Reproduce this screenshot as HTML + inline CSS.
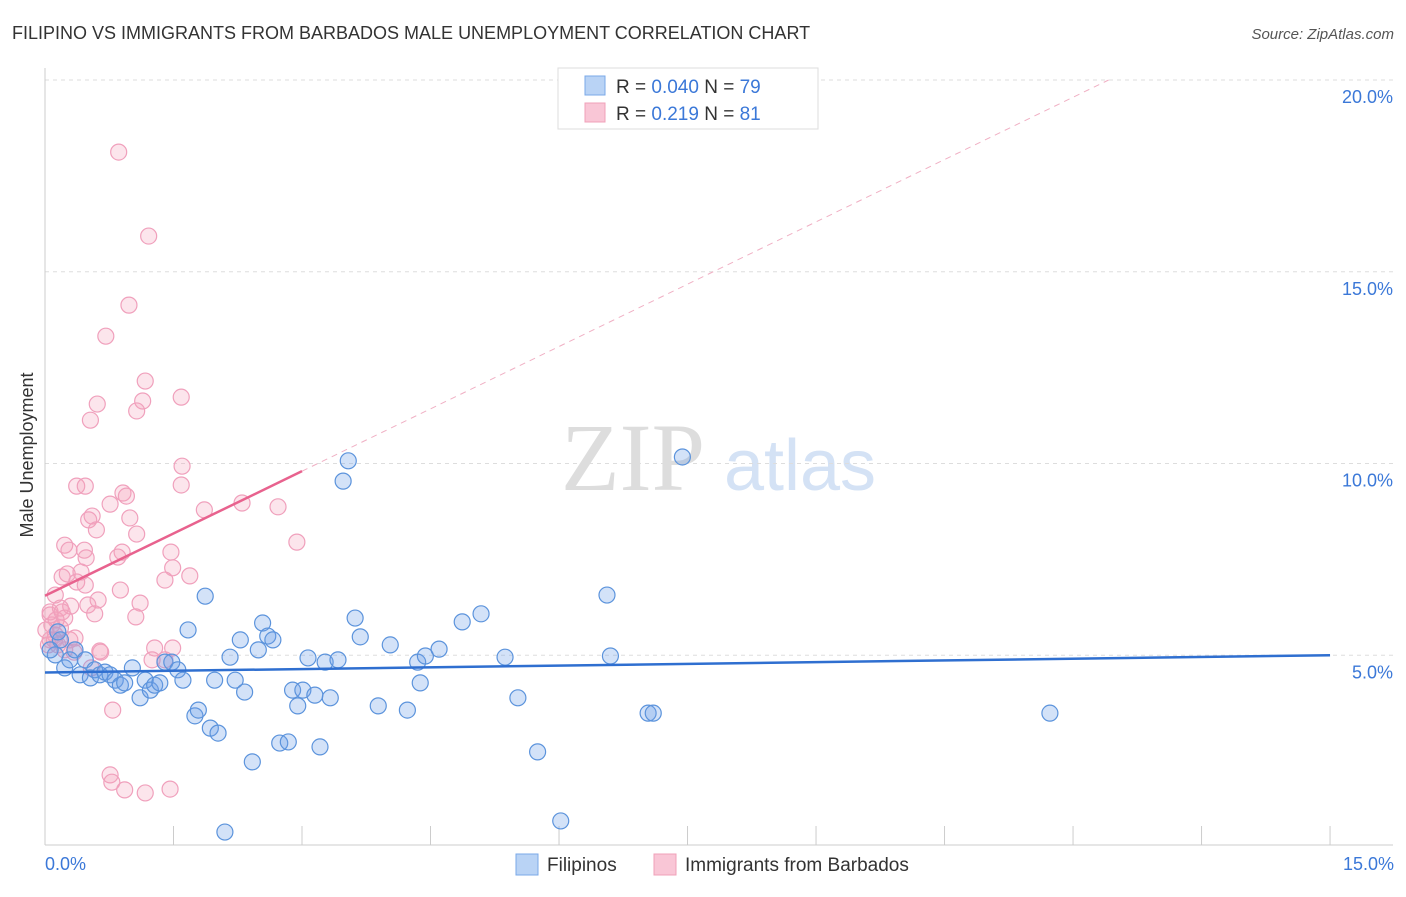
<!DOCTYPE html>
<html><head><meta charset="utf-8"><style>
body{margin:0;background:#fff;font-family:"Liberation Sans",sans-serif}
svg text{font-family:"Liberation Sans",sans-serif}
</style></head><body>
<svg id="c" width="1406" height="892">
<text x="12" y="39" font-size="18" fill="#333">FILIPINO VS IMMIGRANTS FROM BARBADOS MALE UNEMPLOYMENT CORRELATION CHART</text>
<text x="1394" y="39" font-size="15" fill="#555" font-style="italic" text-anchor="end">Source: ZipAtlas.com</text>
<text x="633" y="490" font-size="96" fill="#ddd" font-family="Liberation Serif" text-anchor="middle" style="font-family:'Liberation Serif',serif">ZIP</text>
<text x="800" y="490" font-size="72" fill="#d4e2f5" text-anchor="middle">atlas</text>
<g id="grid"></g>
<g id="marks"></g>
<text transform="translate(33,455) rotate(-90)" font-size="18" fill="#333" text-anchor="middle">Male Unemployment</text>
<text x="45" y="870" font-size="18" fill="#3b78d8">0.0%</text>
<text x="1394" y="870" font-size="18" fill="#3b78d8" text-anchor="end">15.0%</text>
<g>
<rect x="558" y="68" width="260" height="61" fill="#fff" stroke="#ddd"/>
<rect x="585" y="76" width="20" height="19" fill="#b9d3f5" stroke="#7aa8e8"/>
<rect x="585" y="103" width="20" height="19" fill="#f9c6d6" stroke="#f0a0b8"/>
<text x="616" y="93" font-size="19" fill="#333">R = <tspan fill="#3b78d8">0.040</tspan>   N = <tspan fill="#3b78d8">79</tspan></text>
<text x="616" y="120" font-size="19" fill="#333">R =   <tspan fill="#3b78d8">0.219</tspan>   N =  <tspan fill="#3b78d8">81</tspan></text>
</g>
<g>
<rect x="516" y="854" width="22" height="21" fill="#b9d3f5" stroke="#7aa8e8"/>
<text x="547" y="871" font-size="19" fill="#333">Filipinos</text>
<rect x="654" y="854" width="22" height="21" fill="#f9c6d6" stroke="#f0a0b8"/>
<text x="685" y="871" font-size="19" fill="#333">Immigrants from Barbados</text>
</g>
</svg>
<script>
const yTicks=[5,10,15,20];
const yTickLabels=["5.0%","10.0%","15.0%","20.0%"];
const xTicks=[0,1.5,3,4.5,6,7.5,9,10.5,12,13.5,15];
const blueX=[0.12,0.18,0.23,0.29,0.35,0.41,0.47,0.53,0.58,0.64,0.70,0.76,0.82,0.88,0.93,1.02,1.11,1.17,1.23,1.28,1.34,1.40,1.48,1.55,1.61,1.67,1.75,1.79,1.87,1.93,2.02,1.98,2.16,2.22,2.28,2.33,2.42,2.49,2.54,2.60,2.66,2.74,2.84,2.89,2.95,3.01,3.07,3.15,3.21,3.27,3.33,3.42,3.48,3.54,3.62,3.68,3.89,4.03,4.23,4.35,4.38,4.44,4.60,4.87,5.09,5.37,5.52,5.75,6.02,6.56,6.60,7.04,7.10,7.44,11.73,2.10,0.06,0.15];
const blueY=[5.01,5.40,4.67,4.88,5.14,4.49,4.88,4.41,4.62,4.49,4.56,4.49,4.35,4.22,4.28,4.67,3.89,4.35,4.09,4.22,4.28,4.82,4.82,4.62,4.35,5.66,3.42,3.57,6.54,3.10,2.97,4.35,4.95,4.35,5.40,4.04,2.22,5.14,5.84,5.50,5.40,2.71,2.74,4.09,3.68,4.09,4.93,3.96,2.61,4.82,3.89,4.88,9.54,10.07,5.97,5.48,3.68,5.27,3.57,4.82,4.28,4.98,5.16,5.87,6.08,4.95,3.89,2.48,0.68,6.57,4.98,3.49,3.49,10.17,3.49,0.39,5.14,5.61];
const pinkX=[0.86,1.21,0.98,0.71,1.17,1.14,1.59,0.61,1.07,0.53,1.60,0.37,0.47,0.91,0.95,1.59,2.30,0.76,2.72,1.86,0.55,0.51,0.99,0.60,1.07,2.94,0.23,0.28,0.46,0.90,0.48,0.85,1.47,1.49,0.20,0.26,0.42,1.69,1.40,0.37,0.47,0.88,0.12,0.62,1.11,0.18,0.30,0.50,0.58,1.06,0.06,0.13,0.23,0.08,0.18,0.01,0.12,0.29,0.35,0.06,0.15,0.23,0.65,1.28,1.49,1.25,1.40,0.54,0.79,0.76,0.78,0.93,1.17,1.46,0.06,0.20,0.04,0.11,0.34,0.64];
const pinkY=[18.12,15.93,14.13,13.32,12.15,11.63,11.73,11.55,11.37,11.13,9.93,9.41,9.41,9.23,9.15,9.44,8.97,8.94,8.87,8.79,8.63,8.53,8.58,8.27,8.16,7.95,7.87,7.74,7.74,7.69,7.54,7.56,7.69,7.28,7.04,7.12,7.17,7.07,6.96,6.91,6.83,6.70,6.57,6.44,6.36,6.23,6.28,6.31,6.08,6.00,6.05,5.92,5.97,5.79,5.71,5.66,5.53,5.40,5.45,5.40,5.27,5.14,5.08,5.19,5.19,4.88,4.88,4.67,3.57,1.88,1.69,1.49,1.41,1.51,6.13,6.13,5.27,5.40,5.08,5.11];
const blueTrend=[4.55,5.0];
const pinkTrend=[6.55,9.8];
const X0=45,XS=85.67,Y0=847,YS=38.35;
const sx=v=>X0+v*XS, sy=v=>Y0-v*YS;
const NS="http://www.w3.org/2000/svg";
function mk(t,a,p){const e=document.createElementNS(NS,t);for(const k in a)e.setAttribute(k,a[k]);p.appendChild(e);return e;}
const grid=document.getElementById('grid'),marks=document.getElementById('marks');
yTicks.forEach((v,i)=>{
 const l=mk('line',{x1:45,x2:1393,y1:sy(v),y2:sy(v),stroke:'#ddd','stroke-dasharray':'4,4'},grid);
 
 
 const t=mk('text',{x:1393,y:sy(v)+23,'font-size':18,fill:'#3b78d8','text-anchor':'end'},grid);
 t.textContent=yTickLabels[i];
 
 
});
const la=mk('line',{x1:45,x2:45,y1:68,y2:845,stroke:'#ccc'},grid);


const xa=mk('line',{x1:45,x2:1393,y1:845,y2:845,stroke:'#ccc'},grid);


xTicks.forEach(v=>{
 const t=mk('line',{x1:sx(v),x2:sx(v),y1:826,y2:845,stroke:'#ccc'},grid);
 
 
});
function dots(xs,ys,fill,stroke,name){
 xs.forEach((x,i)=>{
  const c=mk('circle',{cx:sx(x),cy:sy(ys[i]),r:8,fill:fill,stroke:stroke,'stroke-width':1.2},marks);
  
  
 });
}
dots(pinkX,pinkY,'rgba(244,160,188,0.28)','#f0a0bc','barbados-point');
dots(blueX,blueY,'rgba(110,160,232,0.3)','#5b93dc','filipino-point');
const slope=(pinkTrend[1]-pinkTrend[0])/3;
const dash=mk('line',{x1:sx(3),y1:sy(pinkTrend[1]),x2:sx(3+(20-pinkTrend[1])/slope),y2:sy(20),stroke:'#f0b0c4','stroke-dasharray':'6,5','stroke-width':1},marks);


const pl=mk('line',{x1:sx(0),y1:sy(pinkTrend[0]),x2:sx(3),y2:sy(pinkTrend[1]),stroke:'#e8628e','stroke-width':2.5},marks);


const bl=mk('line',{x1:sx(0),y1:sy(blueTrend[0]),x2:sx(15),y2:sy(blueTrend[1]),stroke:'#2f6fd0','stroke-width':2.5},marks);


</script>
</body></html>
